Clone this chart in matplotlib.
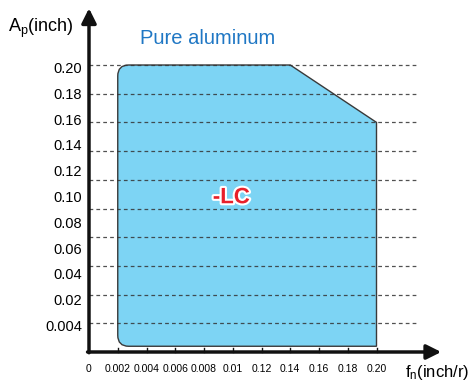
import matplotlib.pyplot as plt
import matplotlib.patheffects as pe
import numpy as np
from matplotlib.path import Path
from matplotlib.patches import PathPatch

plt.rcParams['font.family'] = ['Liberation Sans', 'DejaVu Sans']
plt.rcParams['mathtext.fontset'] = 'custom'
plt.rcParams['mathtext.rm'] = 'Liberation Sans'
plt.rcParams['mathtext.it'] = 'Liberation Sans'

# feed per revolution (categorical axis) and depth of cut labels
fn_labels = ['0', '0.002', '0.004', '0.006', '0.008', '0.01', '0.12', '0.14', '0.16', '0.18', '0.20']
ap_labels = ['0.20', '0.18', '0.16', '0.14', '0.12', '0.10', '0.08', '0.06', '0.04', '0.02', '0.004']
ap_grid = [0.02, 0.04, 0.06, 0.08, 0.10, 0.12, 0.14, 0.16, 0.18, 0.20]

# working region for -LC
fn_min, fn_knee, fn_max = '0.002', '0.14', '0.20'
ap_min, ap_max, ap_at_fn_max = 0.004, 0.20, 0.16

fig = plt.figure(figsize=(4.69, 3.87), dpi=100)
ax = fig.add_axes([0, 0, 1, 1])
ax.set_xlim(-89 / 28.75, (469 - 89) / 28.75)
ax.set_ylim(-35 / 28.7 * 0.02, 352 / 28.7 * 0.02)

x0 = fn_labels.index(fn_min)
xk = fn_labels.index(fn_knee)
x1 = fn_labels.index(fn_max)
rx, ry = 0.38, 0.0077

verts = [(x0, ap_min + ry), (x0, ap_max - ry), (x0, ap_max), (x0 + rx, ap_max),
         (xk, ap_max), (x1, ap_at_fn_max), (x1, ap_min), (x0 + rx, ap_min),
         (x0, ap_min), (x0, ap_min + ry), (x0, ap_min + ry)]
codes = [Path.MOVETO, Path.LINETO, Path.CURVE3, Path.CURVE3,
         Path.LINETO, Path.LINETO, Path.LINETO, Path.LINETO,
         Path.CURVE3, Path.CURVE3, Path.CLOSEPOLY]
ax.add_patch(PathPatch(Path(verts, codes), facecolor='#7dd4f4', edgecolor='#3a3a3a', lw=1.0, zorder=1))

# dashed grid lines
for v in ap_grid:
    ax.plot([0, 11.45], [v, v], color='#333333', lw=0.9, ls=(0, (3, 2.5)), zorder=2, alpha=0.85)

# axes with arrows
ax.spines[['top', 'right', 'left', 'bottom']].set_visible(False)
ax.annotate('', xy=(12.25, 0), xytext=(-0.05, 0),
            arrowprops=dict(arrowstyle='-|>', lw=2.5, color='#111111', mutation_scale=22, shrinkA=0, shrinkB=0),
            zorder=3)
ax.annotate('', xy=(0, 0.2395), xytext=(0, -0.0005),
            arrowprops=dict(arrowstyle='-|>', lw=2.5, color='#111111', mutation_scale=22, shrinkA=0, shrinkB=0),
            zorder=3)

# x ticks
ax.set_xticks([])
ax.set_yticks([])
for i, lab in enumerate(fn_labels):
    if i > 0:
        ax.plot([i, i], [0, 0.0028], color='#111111', lw=1.0, zorder=3)
    ax.text(i, -0.0115, lab, ha='center', va='center', fontsize=7.5)

# y tick labels (evenly spaced, independent of grid)
for pos, lab in zip(np.linspace(0.1972, 0.0174, len(ap_labels)), ap_labels):
    ax.text(-0.25, pos, lab, ha='right', va='center', fontsize=10.5)

ax.text(-2.8, 0.2255, r'A$_{\mathrm{p}}$(inch)', ha='left', va='center', fontsize=13)
ax.text(11.0, -0.0145, r'f$_{\mathrm{n}}$(inch/r)', ha='left', va='center', fontsize=12)

ax.text(1.78, 0.2185, 'Pure aluminum', ha='left', va='center', fontsize=14.5, color='#1f77c4')

ax.text(4.95, 0.1075, '-LC', ha='center', va='center', fontsize=16, fontweight='bold',
        color='#e8202a',
        path_effects=[pe.withStroke(linewidth=3, foreground='white')], zorder=4)

fig.savefig('out.png', dpi=100)
